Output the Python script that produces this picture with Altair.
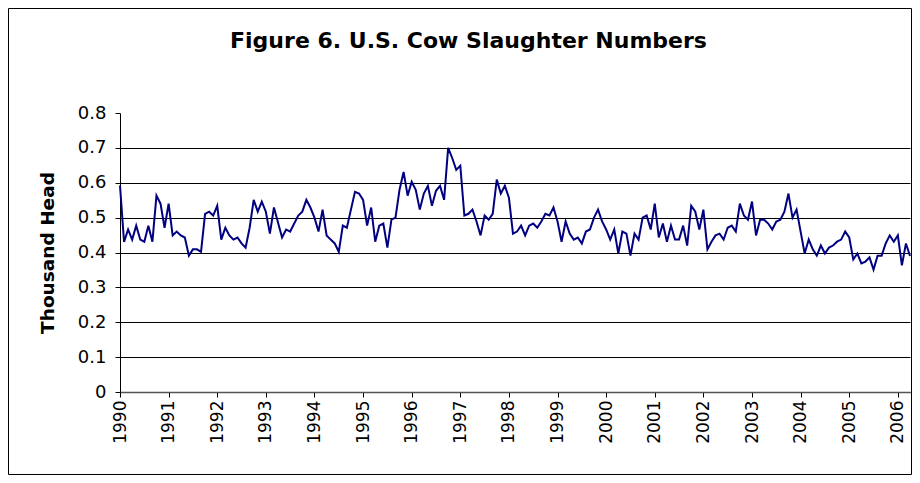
import altair as alt
import pandas as pd

# Monthly U.S. cow slaughter (thousand head), Jan 1990 - Apr 2006
cow_slaughter = [
    0.592, 0.430, 0.466, 0.437, 0.477, 0.437, 0.431, 0.477, 0.431, 0.563, 0.540, 0.471,  # 1990
    0.540, 0.449, 0.460, 0.449, 0.443, 0.391, 0.409, 0.409, 0.402, 0.511, 0.517, 0.506,  # 1991
    0.534, 0.437, 0.471, 0.449, 0.437, 0.443, 0.426, 0.414, 0.471, 0.551, 0.517, 0.546,  # 1992
    0.517, 0.454, 0.529, 0.486, 0.443, 0.466, 0.460, 0.483, 0.506, 0.517, 0.551, 0.529,  # 1993
    0.500, 0.460, 0.523, 0.449, 0.437, 0.426, 0.402, 0.477, 0.471, 0.523, 0.574, 0.569,  # 1994
    0.551, 0.477, 0.529, 0.431, 0.477, 0.483, 0.414, 0.494, 0.500, 0.580, 0.631, 0.563,  # 1995
    0.603, 0.580, 0.523, 0.569, 0.591, 0.534, 0.577, 0.591, 0.551, 0.700, 0.671, 0.637,  # 1996
    0.649, 0.506, 0.511, 0.523, 0.489, 0.449, 0.506, 0.494, 0.511, 0.609, 0.569, 0.591,  # 1997
    0.557, 0.454, 0.460, 0.477, 0.449, 0.477, 0.483, 0.471, 0.489, 0.511, 0.506, 0.529,  # 1998
    0.489, 0.431, 0.489, 0.454, 0.437, 0.443, 0.426, 0.460, 0.466, 0.500, 0.523, 0.489,  # 1999
    0.466, 0.437, 0.466, 0.397, 0.460, 0.454, 0.391, 0.454, 0.437, 0.500, 0.506, 0.466,  # 2000
    0.540, 0.443, 0.483, 0.431, 0.477, 0.437, 0.437, 0.477, 0.420, 0.534, 0.517, 0.466,  # 2001
    0.523, 0.409, 0.431, 0.449, 0.454, 0.437, 0.471, 0.477, 0.460, 0.540, 0.506, 0.494,  # 2002
    0.546, 0.449, 0.494, 0.494, 0.483, 0.466, 0.489, 0.494, 0.517, 0.569, 0.500, 0.523,  # 2003
    0.460, 0.397, 0.437, 0.409, 0.391, 0.420, 0.397, 0.414, 0.420, 0.431, 0.437, 0.460,  # 2004
    0.443, 0.380, 0.397, 0.369, 0.374, 0.386, 0.351, 0.391, 0.391, 0.426, 0.449, 0.431,  # 2005
    0.449, 0.363, 0.426, 0.390,                                                          # 2006
]
start_year = 1990
year_ticks = list(range(1990, 2007))
y_ticks = [0, 0.1, 0.2, 0.3, 0.4, 0.5, 0.6, 0.7, 0.8]
chart_title = "Figure 6. U.S. Cow Slaughter Numbers"

df = pd.DataFrame({
    "t": [start_year + i / 12 for i in range(len(cow_slaughter))],
    "v": cow_slaughter,
})

FONT = "DejaVu Sans"
W, H = 790, 279
PAD = {"left": 112, "top": 105, "right": 2, "bottom": 83}

line = alt.Chart(df).mark_line(color="#000080", strokeWidth=2).encode(
    x=alt.X(
        "t:Q",
        scale=alt.Scale(domain=[start_year, float(df["t"].max())], nice=False, zero=False),
        axis=alt.Axis(
            values=year_ticks, format="d", labelAngle=-90, grid=False,
            tickSize=5, tickColor="black", domainColor="#555555", domainWidth=1.5,
            labelFont=FONT, labelFontSize=17, labelColor="black", labelPadding=3,
            labelFlush=False, labelOverlap=False, title=None,
        ),
    ),
    y=alt.Y(
        "v:Q",
        scale=alt.Scale(domain=[0, 0.8], nice=False, zero=True),
        axis=alt.Axis(
            values=y_ticks, format="~g", grid=True,
            gridColor={"condition": {"test": "datum.value > 0.75", "value": "transparent"}, "value": "black"},
            gridWidth=1, tickSize=5, tickColor="black", domainColor="black",
            labelFont=FONT, labelFontSize=18, labelColor="black", labelPadding=9,
            title="Thousand Head", titleFont=FONT, titleFontSize=18.5, titleFontWeight="bold",
            titleColor="black", titleX=-67, titleY=H / 2, titleBaseline="alphabetic",
            titleAngle=270,
        ),
    ),
)

one_row = pd.DataFrame({"k": [0]})

border = alt.Chart(one_row).mark_rect(
    fillOpacity=0, stroke="black", strokeWidth=1
).encode(
    x=alt.value(-PAD["left"] + 0.5),
    x2=alt.value(W + PAD["right"] - 0.5),
    y=alt.value(-PAD["top"] + 0.5),
    y2=alt.value(H + PAD["bottom"] - 0.5),
)

title = alt.Chart(one_row).mark_text(
    text=chart_title, font=FONT, fontSize=22, fontWeight="bold", color="black",
    align="center", baseline="alphabetic",
).encode(
    x=alt.value(348.5),
    y=alt.value(-65),
)

chart = alt.layer(border, line, title).properties(
    width=W,
    height=H,
    padding=PAD,
    autosize=alt.AutoSizeParams(type="none"),
    background="white",
).configure_view(strokeWidth=0)

chart.save("out.html", embed_options={"renderer": "svg", "actions": False})
